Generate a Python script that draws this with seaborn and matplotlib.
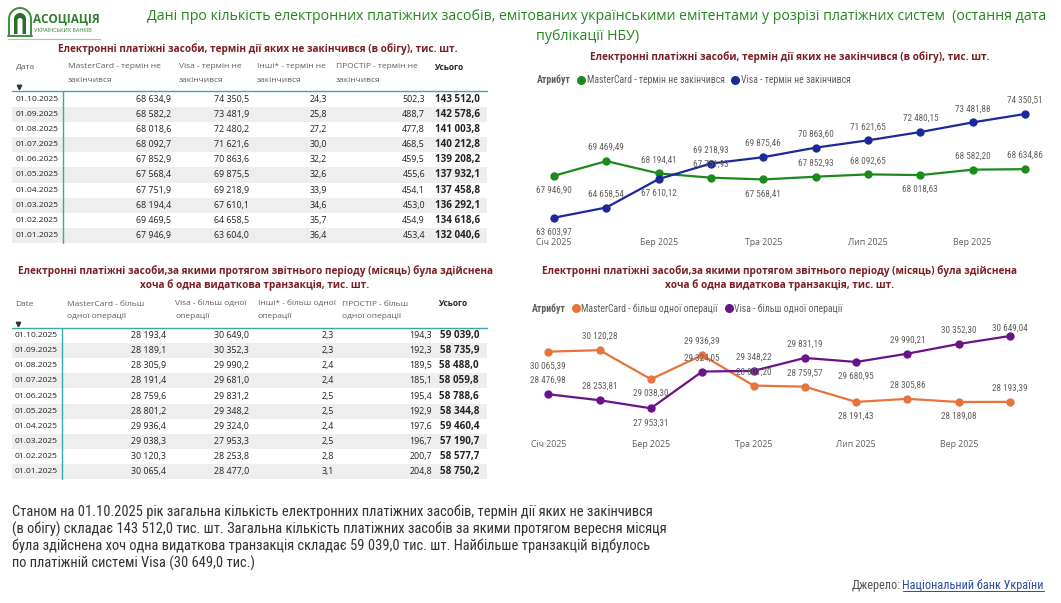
import numpy as np
import pandas as pd
import matplotlib
matplotlib.use("Agg")
import matplotlib.pyplot as plt
import seaborn as sns
from matplotlib import font_manager as fm
from matplotlib.lines import Line2D
from matplotlib.patches import Rectangle, PathPatch
from matplotlib.path import Path

# ---------------- data ----------------
dates = ["01.01.2025", "01.02.2025", "01.03.2025", "01.04.2025", "01.05.2025",
         "01.06.2025", "01.07.2025", "01.08.2025", "01.09.2025", "01.10.2025"]
month_ticks = ["Січ 2025", "Бер 2025", "Тра 2025", "Лип 2025", "Вер 2025"]

# chart 1 (cards in circulation), thousands
valid_mc = [67946.90, 69469.49, 68194.41, 67751.93, 67568.41, 67852.93, 68092.65, 68018.63, 68582.20, 68634.86]
valid_visa = [63603.97, 64658.54, 67610.12, 69218.93, 69875.46, 70863.60, 71621.65, 72480.15, 73481.88, 74350.51]
# chart 2 (cards with at least one debit transaction), thousands
active_mc = [30065.39, 30120.28, 29038.30, 29936.39, 28801.20, 28759.57, 28191.43, 28305.86, 28189.08, 28193.39]
active_visa = [28476.98, 28253.81, 27953.31, 29324.05, 29348.22, 29831.19, 29680.95, 29990.21, 30352.30, 30649.04]

# table 1 (chronological order)
t1_mc = [67946.9, 69469.5, 68194.4, 67751.9, 67568.4, 67852.9, 68092.7, 68018.6, 68582.2, 68634.9]
t1_visa = [63604.0, 64658.5, 67610.1, 69218.9, 69875.5, 70863.6, 71621.6, 72480.2, 73481.9, 74350.5]
t1_other = [36.4, 35.7, 34.6, 33.9, 32.6, 32.2, 30.0, 27.2, 25.8, 24.3]
t1_prostir = [453.4, 454.9, 453.0, 454.1, 455.6, 459.5, 468.5, 477.8, 488.7, 502.3]
t1_total = [132040.6, 134618.6, 136292.1, 137458.8, 137932.1, 139208.2, 140212.8, 141003.8, 142578.6, 143512.0]
# table 2 (chronological order)
t2_mc = [30065.4, 30120.3, 29038.3, 29936.4, 28801.2, 28759.6, 28191.4, 28305.9, 28189.1, 28193.4]
t2_visa = [28477.0, 28253.8, 27953.3, 29324.0, 29348.2, 29831.2, 29681.0, 29990.2, 30352.3, 30649.0]
t2_other = [3.1, 2.8, 2.5, 2.4, 2.5, 2.5, 2.4, 2.4, 2.3, 2.3]
t2_prostir = [204.8, 200.7, 196.7, 197.6, 192.9, 195.4, 185.1, 189.5, 192.3, 194.3]
t2_total = [58750.2, 58577.7, 57190.7, 59460.4, 58344.8, 58788.6, 58059.8, 58488.0, 58735.9, 59039.0]

t1_headers = ["Дата", "MasterCard - термін не\nзакінчився", "Visa - термін не\nзакінчився",
              "Інші* - термін не\nзакінчився", "ПРОСТІР - термін не\nзакінчився", "Усього"]
t2_headers = ["Date", "MasterCard - більш\nодної операції", "Visa - більш одної\nоперації",
              "Інші* - більш одної\nоперації", "ПРОСТІР - більш\nодної операції", "Усього"]
c1_names = ["MasterCard - термін не закінчився", "Visa - термін не закінчився"]
c2_names = ["MasterCard - більш одної операції", "Visa - більш одної операції"]

title_l1 = "Дані про кількість електронних платіжних засобів, емітованих українськими емітентами у розрізі платіжних систем  (остання дата"
title_l2 = "публікації НБУ)"
sec1 = "Електронні платіжні засоби, термін дії яких не закінчився (в обігу), тис. шт."
sec2_l1 = "Електронні платіжні засоби,за якими протягом звітнього періоду (місяць) була здійснена"
sec2_l2 = "хоча б одна видаткова транзакція, тис. шт."
para = ["Станом на 01.10.2025 рік загальна кількість електронних платіжних засобів, термін дії яких не закінчився",
        "(в обігу) складає 143 512,0 тис. шт. Загальна кількість платіжних засобів за якими протягом вересня місяця",
        "була здійснена хоч одна видаткова транзакція складає 59 039,0 тис. шт. Найбільше транзакцій відбулось",
        "по платіжній системі Visa (30 649,0 тис.)"]

# ---------------- style ----------------
sns.set_theme(style="white")
avail = {f.name for f in fm.fontManager.ttflist}


def pick(*names):
    for n in names:
        if n in avail:
            return n
    return "DejaVu Sans"


NARROW = [pick("Liberation Sans Narrow", "Roboto Condensed", "Arial Narrow", "Roboto"), "DejaVu Sans"]
UI = pick("Open Sans", "Noto Sans", "Lato")
UIL = [UI, "DejaVu Sans"]
plt.rcParams["font.family"] = UIL

GREEN_T = "#23871F"
MAROON = "#7A1F22"
GRAY = "#605E5C"
DARK = "#252423"
TEAL = "#3AA8A8"
SHADE = "#EEEEEE"

W, H = 1061, 603
fig = plt.figure(figsize=(W / 100, H / 100), dpi=100, facecolor="white")


def frect(l, t, r, b):
    return [l / W, 1 - b / H, (r - l) / W, (b - t) / H]


bg = fig.add_axes([0, 0, 1, 1])
bg.set_xlim(0, W)
bg.set_ylim(H, 0)
bg.axis("off")


def fmt(v, nd):
    s = f"{v:,.{nd}f}"
    return s.replace(",", "X").replace(".", ",").replace("X", " ")


# ---------------- logo & title ----------------
def arch_path(x0, x1, yb, yt):
    r = (x1 - x0) / 2
    xc = x0 + r
    th = np.linspace(np.pi, 0, 30)
    xs = np.concatenate([[x0], xc + r * np.cos(th), [x1]])
    ys = np.concatenate([[yb], (yt + r) - r * np.sin(th), [yb]])
    return Path(np.column_stack([xs, ys]))


bg.add_patch(PathPatch(arch_path(9, 31, 36, 8), fill=False, ec="#3E8E3E", lw=1.4))
bg.add_patch(PathPatch(arch_path(14, 26, 34, 13), fc="#2F6B2F", ec="none"))
bg.add_patch(PathPatch(arch_path(17.5, 22.5, 34, 18), fc="white", ec="none"))
bg.plot([8, 32], [36, 36], color="#3E8E3E", lw=1.4)
bg.text(33, 19, "АСОЦІАЦІЯ", fontsize=8.5, fontweight="bold", color="#2E7D32", va="center", ha="left")
bg.text(33.5, 30.5, "УКРАЇНСЬКИХ БАНКІВ", fontsize=4.1, color="#2E7D32", va="center", ha="left")
bg.plot([8, 100], [38.5, 38.5], color="#A5C99A", lw=0.8)

bg.text(597, 17, title_l1, fontsize=10.15, color=GREEN_T, ha="center", va="center")
bg.text(588, 37, title_l2, fontsize=10.15, color=GREEN_T, ha="center", va="center")


# ---------------- tables ----------------
def draw_table(title_lines, title_ys, title_x, headers, head_x, head_y, line_y, vline_x,
               row0, rowh, cols, col_right, date_x):
    for tl, ty in zip(title_lines, title_ys):
        bg.text(title_x, ty, tl, fontsize=7.2, fontweight="bold", color=MAROON, ha="center", va="center")
    for j, (h, hx) in enumerate(zip(headers, head_x)):
        bold = (j == len(headers) - 1)
        for k, line in enumerate(h.split("\n")):
            bg.text(hx, head_y + k * 13, line, fontsize=6.0, color=DARK if bold else GRAY,
                    fontweight="bold" if bold else "normal", ha="left", va="center")
    bg.plot([date_x + 2.5], [head_y + 19.5], marker="v", ms=3.2, color="#333333", ls="none")
    n = len(dates)
    order = list(range(n))[::-1]
    for r, idx in enumerate(order):
        y = row0 + r * rowh
        if r % 2 == 1:
            bg.add_patch(Rectangle((12, y - rowh / 2), 475, rowh, fc=SHADE, ec="none", zorder=0))
        bg.text(date_x, y, dates[idx], fontsize=6.1, color=DARK, ha="left", va="center")
        for c, (arr, xr) in enumerate(zip(cols, col_right)):
            bold = (c == len(cols) - 1)
            bg.text(xr, y, fmt(arr[idx], 1), fontsize=7.1 if bold else 6.4, color=DARK,
                    fontweight="bold" if bold else "normal", ha="right", va="center")
    bg.plot([12, 487], [line_y, line_y], color=TEAL, lw=1.0)
    bg.plot([vline_x, vline_x], [line_y, row0 + (n - 0.5) * rowh], color=TEAL, lw=1.0)


draw_table([sec1], [49], 258, t1_headers, [16, 68, 179, 257, 336, 434], 67, 91, 63,
           99.5, 15.1, [t1_mc, t1_visa, t1_other, t1_prostir, t1_total],
           [171, 249, 327, 425, 480], 16)
draw_table([sec2_l1, sec2_l2], [270.7, 285], 255, t2_headers, [15, 67, 175, 258, 342, 438], 304, 327.5, 62,
           335.8, 15.05, [t2_mc, t2_visa, t2_other, t2_prostir, t2_total],
           [166, 249, 334, 432, 479], 15)


# ---------------- line charts ----------------
def draw_chart(px, xpos0, xstep, ypx, yvals, series, names, colors, sides, tick_pad,
               title_lines, title_ys, title_x, legend_y, attr_x):
    l, t, r, b = px
    ax = fig.add_axes(frect(l, t, r, b))
    ax.set_facecolor("none")
    (py_a, py_b), (v_a, v_b) = ypx, yvals
    scale = (py_a - py_b) / (v_b - v_a)
    ymax = v_b + (py_b - t) / scale
    ymin = v_a - (b - py_a) / scale
    xmin = (l - xpos0) / xstep
    xmax = (r - xpos0) / xstep
    n = len(series[0])
    df = pd.DataFrame({"month": np.tile(np.arange(n), len(series)),
                       "value": np.concatenate(series),
                       "series": np.repeat(names, n)})
    sns.lineplot(data=df, x="month", y="value", hue="series", hue_order=names,
                 palette=dict(zip(names, colors)), marker="o", markersize=6,
                 markeredgewidth=0, linewidth=1.6, ax=ax, legend=False, sort=False)
    for vals, sd in zip(series, sides):
        for i, (v, s) in enumerate(zip(vals, sd)):
            off = (9.8 if s > 0 else -10.4) * abs(s)
            ax.annotate(fmt(v, 2), (i, v), xytext=(0, off), textcoords="offset points",
                        ha="center", va="center", fontsize=6.6, color=GRAY, family=NARROW)
    ax.set_xlim(xmin, xmax)
    ax.set_ylim(ymin, ymax)
    ax.set_xticks(np.arange(0, n, 2))
    ax.set_xticklabels(month_ticks, family=UIL)
    ax.set_yticks([])
    ax.tick_params(axis="x", length=0, pad=tick_pad, labelsize=6.3, labelcolor=GRAY)
    ax.grid(False)
    for sp in ax.spines.values():
        sp.set_visible(False)
    ax.set_xlabel("")
    ax.set_ylabel("")
    for tl, ty in zip(title_lines, title_ys):
        bg.text(title_x, ty, tl, fontsize=7.2, fontweight="bold", color=MAROON, ha="center", va="center")
    bg.text(attr_x, legend_y, "Атрибут", fontsize=7, fontweight="bold", color=GRAY,
            ha="left", va="center", family=NARROW)
    handles = [Line2D([], [], marker="o", ls="none", color=c, markersize=6.5, markeredgewidth=0) for c in colors]
    leg = ax.legend(handles, names, ncol=2, frameon=False, loc="center left",
                    bbox_to_anchor=((attr_x + 40) / W, 1 - legend_y / H), bbox_transform=fig.transFigure,
                    borderpad=0, borderaxespad=0, handlelength=0.8, handletextpad=0.2,
                    columnspacing=0.7, prop={"family": NARROW, "size": 7})
    for txt in leg.get_texts():
        txt.set_color(GRAY)
    return ax


c1_sides = [[-1, 1, 1, 1, -1, 1, 1, -1, 1, 1],
            [-1, 1, -1, 1, 1, 1, 1, 1, 1, 1]]
c2_sides = [[-1, 1, -1, 1, 1, 1, -1, 1, -1, 1],
            [1, 1, -1, 1, 1, 1, -1, 1, 1, 0.55]]

draw_chart((540, 100, 1040, 235), 554, 52.33, (217.7, 114), (valid_visa[0], valid_visa[-1]),
           [valid_mc, valid_visa], c1_names, ["#1D8A1D", "#1B2A9A"], c1_sides, 2.5,
           [sec1], [57.5], 790, 80, 537)
draw_chart((535, 320, 1025, 436), 548.3, 51.3, (408.3, 336), (active_visa[2], active_visa[-1]),
           [active_mc, active_visa], c2_names, ["#E8743B", "#6A1389"], c2_sides, 3.0,
           [sec2_l1, sec2_l2], [270.7, 285], 780, 308.3, 531.7)

# ---------------- paragraph & source ----------------
for k, line in enumerate(para):
    bg.text(12, 512 + k * 17, line, fontsize=10.45, color="#333333", ha="left", va="center", family=NARROW)

src_link = bg.text(1044, 585, "Національний банк України", fontsize=8.8, color="#2A4EA0",
                   ha="right", va="center", family=NARROW)
fig.canvas.draw()
rend = fig.canvas.get_renderer()
bb = src_link.get_window_extent(rend)
inv = bg.transData.inverted()
(x0, y0), (x1, y1) = inv.transform([[bb.x0, bb.y0], [bb.x1, bb.y1]])
bg.plot([x0, x1], [y0 - 0.5, y0 - 0.5], color="#2A4EA0", lw=0.7)
bg.text(x0 - 2, 585, "Джерело:", fontsize=8.8, color="#555555", ha="right", va="center", family=NARROW)

fig.savefig("out.png", dpi=100, facecolor="white")
